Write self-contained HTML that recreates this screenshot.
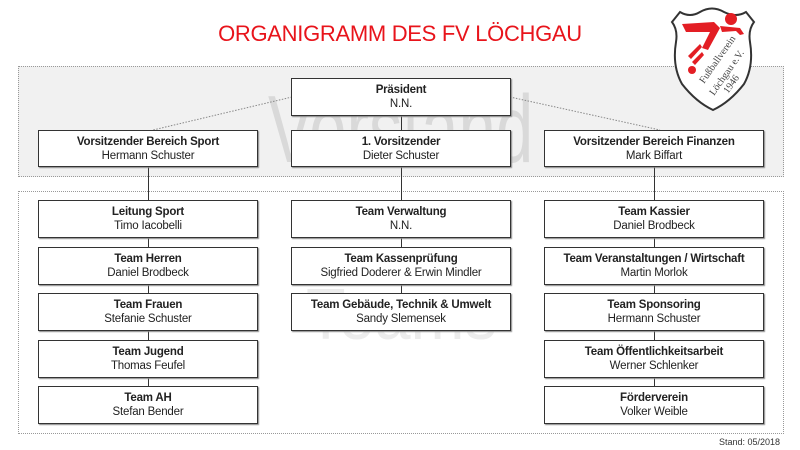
<!DOCTYPE html>
<html style="overflow:hidden;width:800px;height:450px"><head><meta charset="utf-8"><style>
*{margin:0;padding:0;box-sizing:border-box}
body{width:800px;height:450px;background:#fff;position:relative;overflow:hidden;font-family:"Liberation Sans",Arial,sans-serif;color:#222}
.reg{position:absolute;border:1px dotted #999}
.box{position:absolute;width:220px;height:38px;background:#fff;border:1px solid #333;box-shadow:1px 1px 1px #888;text-align:center;font-size:11.5px;line-height:14px;padding-top:4px;letter-spacing:-0.2px}
.box b{display:block;font-weight:bold}
.wm{position:absolute;color:#d9d9d9;white-space:nowrap;transform-origin:left top}
.v{position:absolute;width:1px;background:#333}
</style></head><body>
<div style="position:absolute;left:0;top:21px;width:800px;text-align:center;color:#e8141b;font-size:22px;letter-spacing:-0.3px">ORGANIGRAMM DES FV LÖCHGAU</div>

<div class="reg" style="left:18px;top:66px;width:766px;height:111px;background:#f1f1f1"></div>
<div class="reg" style="left:18px;top:191px;width:766px;height:243px"></div>

<div class="wm" style="left:268px;top:75px;font-size:96px;transform:scaleX(0.7)">Vorstand</div>
<div class="wm" style="left:306px;top:274px;font-size:72px;color:#ececec;transform:scaleX(0.9)">Teams</div>

<svg style="position:absolute;left:0;top:0" width="800" height="450">
<line x1="292" y1="97" x2="153" y2="130" stroke="#888" stroke-dasharray="1.5,1.5"/>
<line x1="510" y1="97" x2="660" y2="130" stroke="#888" stroke-dasharray="1.5,1.5"/>
</svg>

<div class="v" style="left:401px;top:116px;height:14px"></div>
<div class="v" style="left:148px;top:167px;height:220px"></div>
<div class="v" style="left:401px;top:167px;height:127px"></div>
<div class="v" style="left:654px;top:167px;height:220px"></div>

<div class="box" style="left:291px;top:78px"><b>Präsident</b>N.N.</div>
<div class="box" style="left:38px;top:130px;height:37px"><b>Vorsitzender Bereich Sport</b>Hermann Schuster</div>
<div class="box" style="left:291px;top:130px;height:37px"><b>1. Vorsitzender</b>Dieter Schuster</div>
<div class="box" style="left:544px;top:130px;height:37px"><b>Vorsitzender Bereich Finanzen</b>Mark Biffart</div>

<div class="box" style="left:38px;top:200px"><b>Leitung Sport</b>Timo Iacobelli</div>
<div class="box" style="left:38px;top:247px"><b>Team Herren</b>Daniel Brodbeck</div>
<div class="box" style="left:38px;top:293px"><b>Team Frauen</b>Stefanie Schuster</div>
<div class="box" style="left:38px;top:340px"><b>Team Jugend</b>Thomas Feufel</div>
<div class="box" style="left:38px;top:386px"><b>Team AH</b>Stefan Bender</div>

<div class="box" style="left:291px;top:200px"><b>Team Verwaltung</b>N.N.</div>
<div class="box" style="left:291px;top:247px"><b>Team Kassenprüfung</b>Sigfried Doderer &amp; Erwin Mindler</div>
<div class="box" style="left:291px;top:293px"><b>Team Gebäude, Technik &amp; Umwelt</b>Sandy Slemensek</div>

<div class="box" style="left:544px;top:200px"><b>Team Kassier</b>Daniel Brodbeck</div>
<div class="box" style="left:544px;top:247px"><b>Team Veranstaltungen / Wirtschaft</b>Martin Morlok</div>
<div class="box" style="left:544px;top:293px"><b>Team Sponsoring</b>Hermann Schuster</div>
<div class="box" style="left:544px;top:340px"><b>Team Öffentlichkeitsarbeit</b>Werner Schlenker</div>
<div class="box" style="left:544px;top:386px"><b>Förderverein</b>Volker Weible</div>

<div style="position:absolute;left:700px;top:437px;width:80px;text-align:right;font-size:9px;color:#333">Stand: 05/2018</div>

<svg style="position:absolute;left:668px;top:6px" width="90" height="106" viewBox="0 0 90 106">
<path d="M12 6 Q22 12 32 6 Q44 -1 56 6 Q68 12 78 6 L86 16 Q80 24 82 36 Q86 60 76 78 Q62 96 45 104 Q28 96 14 78 Q4 60 8 36 Q10 24 4 16 Z" fill="#fff" stroke="#333" stroke-width="2"/>
<path d="M14 18 L46 16 L52 22 L40 44 L34 42 L42 26 L18 26 Z" fill="#e31e24"/>
<circle cx="63" cy="13" r="6" fill="#e31e24"/>
<path d="M52 20 L72 22 L76 28 L72 29 L68 25 L54 26 Z" fill="#e31e24"/>
<path d="M20 50 L32 38 L34 41 L23 53 Z M24 56 L34 46 L36 49 L27 59 Z" fill="#e31e24"/>
<circle cx="24" cy="64" r="4" fill="#e31e24"/>
<text x="36" y="78" font-family="Liberation Serif,serif" font-size="10" fill="#444" transform="rotate(-55 36 78)">Fußballverein</text>
<text x="46" y="90" font-family="Liberation Serif,serif" font-size="10" fill="#444" transform="rotate(-55 46 90)">Löchgau e.V.</text>
<text x="60" y="88" font-family="Liberation Serif,serif" font-size="10" fill="#444" transform="rotate(-55 60 88)">1946</text>
</svg>
</body></html>
